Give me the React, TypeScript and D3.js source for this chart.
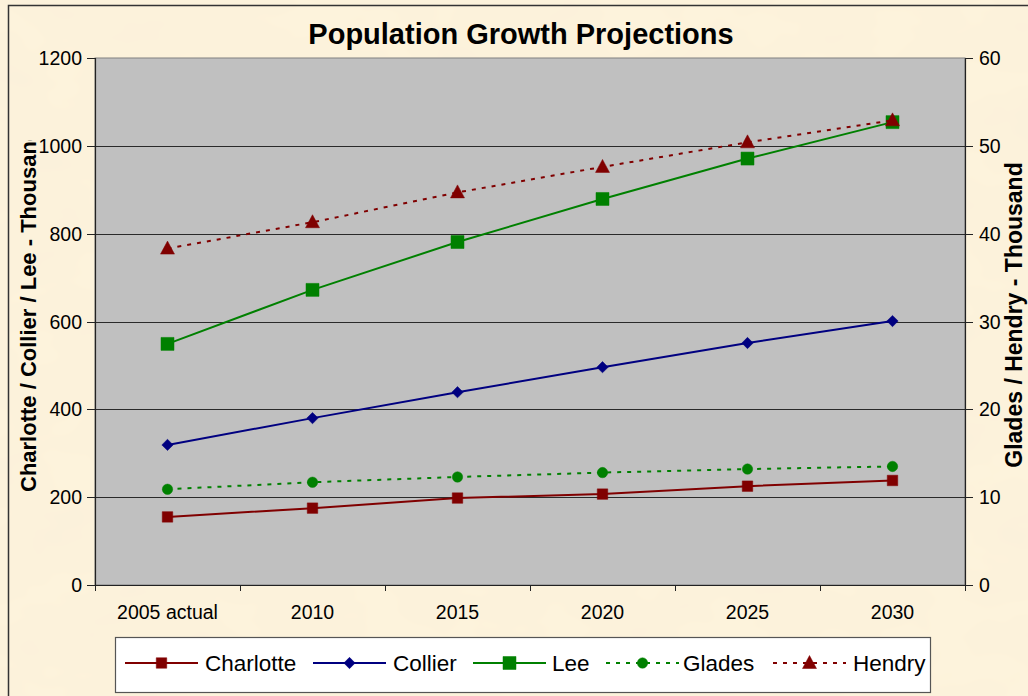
import React from "react";
import * as d3 from "d3";

const categories = ["2005 actual", "2010", "2015", "2020", "2025", "2030"];
const charlotte = [155, 175, 198, 207, 225, 238];
const collier = [319, 380, 439, 496, 551, 601];
const lee = [549, 672, 781, 879, 971, 1054];
const glades = [10.9, 11.7, 12.3, 12.8, 13.2, 13.5];
const hendry = [38.3, 41.3, 44.7, 47.6, 50.4, 52.9];
const leftTicks = [0, 200, 400, 600, 800, 1000, 1200];
const rightTicks = [0, 10, 20, 30, 40, 50, 60];

type Series = {
  name: string;
  values: number[];
  axis: "L" | "R";
  color: string;
  dash?: string;
  marker: "square" | "diamond" | "bigsquare" | "circle" | "triangle";
};

const seriesList: Series[] = [
  { name: "Charlotte", values: charlotte, axis: "L", color: "#800000", marker: "square" },
  { name: "Collier", values: collier, axis: "L", color: "#000080", marker: "diamond" },
  { name: "Lee", values: lee, axis: "L", color: "#008000", marker: "bigsquare" },
  { name: "Glades", values: glades, axis: "R", color: "#008000", dash: "4 6", marker: "circle" },
  { name: "Hendry", values: hendry, axis: "R", color: "#800000", dash: "4 6", marker: "triangle" },
];

const W = 1028;
const H = 696;
const PL = 95, PR = 965, PT = 58, PB = 585;

const x = d3.scaleBand<string>().domain(categories).range([PL, PR]);
const cx = (c: string) => (x(c) as number) + x.bandwidth() / 2;
const yL = d3.scaleLinear().domain([0, 1200]).range([PB, PT]);
const yR = d3.scaleLinear().domain([0, 60]).range([PB, PT]);

const FONT = "'Liberation Sans', Arial, Helvetica, sans-serif";

const triPath = (() => {
  const p = d3.path();
  p.moveTo(0, -7.5);
  p.lineTo(7, 5.5);
  p.lineTo(-7, 5.5);
  p.closePath();
  return p.toString();
})();

function markerPath(m: Series["marker"]): { d: string; rot: number } {
  switch (m) {
    case "square":
      return { d: d3.symbol(d3.symbolSquare, 110)() as string, rot: 0 };
    case "bigsquare":
      return { d: d3.symbol(d3.symbolSquare, 169)() as string, rot: 0 };
    case "diamond":
      return { d: d3.symbol(d3.symbolSquare, 64)() as string, rot: 45 };
    case "circle":
      return { d: d3.symbol(d3.symbolCircle, 85)() as string, rot: 0 };
    case "triangle":
      return { d: triPath, rot: 0 };
  }
}

function Marker({ s, px, py }: { s: Series; px: number; py: number }) {
  const mp = markerPath(s.marker);
  return (
    <path
      d={mp.d}
      transform={`translate(${px},${py}) rotate(${mp.rot})`}
      fill={s.color}
      stroke={s.color}
      strokeWidth={0.5}
    />
  );
}

const legendItems = [
  { lx: 125, tx: 205 },
  { lx: 313, tx: 393 },
  { lx: 473, tx: 552 },
  { lx: 606, tx: 683 },
  { lx: 773, tx: 853 },
];

export default function App() {
  return (
    <svg
      width={W}
      height={H}
      style={{ position: "absolute", left: 0, top: 0 }}
      fontFamily={FONT}
    >
      <defs>
        <filter id="parch" x="0" y="0" width="100%" height="100%">
          <feTurbulence type="fractalNoise" baseFrequency="0.012 0.02" numOctaves="3" seed="7" result="n" />
          <feColorMatrix
            in="n"
            type="matrix"
            values="0 0 0 0 0.93  0 0 0 0 0.84  0 0 0 0 0.66  0 0 0 0.5 -0.12"
          />
        </filter>
        <clipPath id="lclip">
          <rect x={0} y={140} width={60} height={400} />
        </clipPath>
      </defs>
      {/* background */}
      <rect x={0} y={0} width={W} height={H} fill="#fdf3dc" />
      <rect x={0} y={0} width={W} height={H} filter="url(#parch)" />
      <rect x={0} y={0} width={W} height={H} fill="#fdf3dc" opacity={0.4} />
      {/* outer border */}
      <rect x={8.5} y={5.5} width={W + 20} height={H + 20} fill="none" stroke="#333" strokeWidth={1.5} />

      {/* title */}
      <text x={521} y={44} textAnchor="middle" fontSize={29} fontWeight="bold" fill="#000">
        Population Growth Projections
      </text>

      {/* plot area */}
      <rect x={PL} y={PT} width={PR - PL} height={PB - PT} fill="#c0c0c0" stroke="#808080" strokeWidth={1} />

      {/* gridlines */}
      {leftTicks.slice(1, -1).map((t) => (
        <line key={t} x1={PL} x2={PR} y1={Math.round(yL(t)) + 0.5} y2={Math.round(yL(t)) + 0.5} stroke="#2a2a2a" strokeWidth={1.1} />
      ))}

      {/* left axis */}
      <line x1={PL + 0.5} x2={PL + 0.5} y1={PT} y2={PB} stroke="#222" strokeWidth={1.2} />
      {leftTicks.map((t) => (
        <g key={t}>
          <line x1={PL - 8} x2={PL} y1={Math.round(yL(t)) + 0.5} y2={Math.round(yL(t)) + 0.5} stroke="#222" />
          <text x={82} y={yL(t) + 7} textAnchor="end" fontSize={19.5} fill="#000">
            {t}
          </text>
        </g>
      ))}

      {/* right axis */}
      <line x1={PR + 0.5} x2={PR + 0.5} y1={PT} y2={PB} stroke="#222" strokeWidth={1.2} />
      {rightTicks.map((t) => (
        <g key={t}>
          <line x1={PR} x2={PR + 8} y1={Math.round(yR(t)) + 0.5} y2={Math.round(yR(t)) + 0.5} stroke="#222" />
          <text x={979} y={yR(t) + 7} textAnchor="start" fontSize={19.5} fill="#000">
            {t}
          </text>
        </g>
      ))}

      {/* x axis */}
      <line x1={PL} x2={PR} y1={PB + 0.5} y2={PB + 0.5} stroke="#222" strokeWidth={1.2} />
      {categories.map((c, i) => (
        <line key={"t" + i} x1={(x(c) as number) + 0.5} x2={(x(c) as number) + 0.5} y1={PB} y2={PB + 6} stroke="#222" />
      ))}
      <line x1={PR + 0.5} x2={PR + 0.5} y1={PB} y2={PB + 6} stroke="#222" />
      {categories.map((c) => (
        <text key={c} x={cx(c)} y={619} textAnchor="middle" fontSize={19.5} fill="#000">
          {c}
        </text>
      ))}

      {/* axis titles */}
      <g clipPath="url(#lclip)">
        <text
          transform={`translate(36,492) rotate(-90)`}
          textAnchor="start"
          fontSize={22}
          fontWeight="bold"
          fill="#000"
        >
          Charlotte / Collier / Lee - Thousand
        </text>
      </g>
      <text
        transform={`translate(1022,315) rotate(-90)`}
        textAnchor="middle"
        fontSize={23}
        fontWeight="bold"
        fill="#000"
      >
        Glades / Hendry - Thousand
      </text>

      {/* series */}
      {seriesList.map((s) => {
        const yS = s.axis === "L" ? yL : yR;
        const line = d3
          .line<number>()
          .x((_, i) => cx(categories[i]))
          .y((v) => yS(v));
        return (
          <g key={s.name}>
            <path d={line(s.values) as string} fill="none" stroke={s.color} strokeWidth={2} strokeDasharray={s.dash} />
            {s.values.map((v, i) => (
              <Marker key={i} s={s} px={cx(categories[i])} py={yS(v)} />
            ))}
          </g>
        );
      })}

      {/* legend */}
      <rect x={115.5} y={637.5} width={815} height={55} fill="#fff" stroke="#555" strokeWidth={1.2} />
      {seriesList.map((s, i) => {
        const it = legendItems[i];
        const ly = 663;
        return (
          <g key={"lg" + s.name}>
            <line x1={it.lx} x2={it.lx + 73} y1={ly} y2={ly} stroke={s.color} strokeWidth={2} strokeDasharray={s.dash} />
            <Marker s={s} px={it.lx + 36.5} py={ly} />
            <text x={it.tx} y={ly + 8} fontSize={22.5} fill="#000">
              {s.name}
            </text>
          </g>
        );
      })}
    </svg>
  );
}
